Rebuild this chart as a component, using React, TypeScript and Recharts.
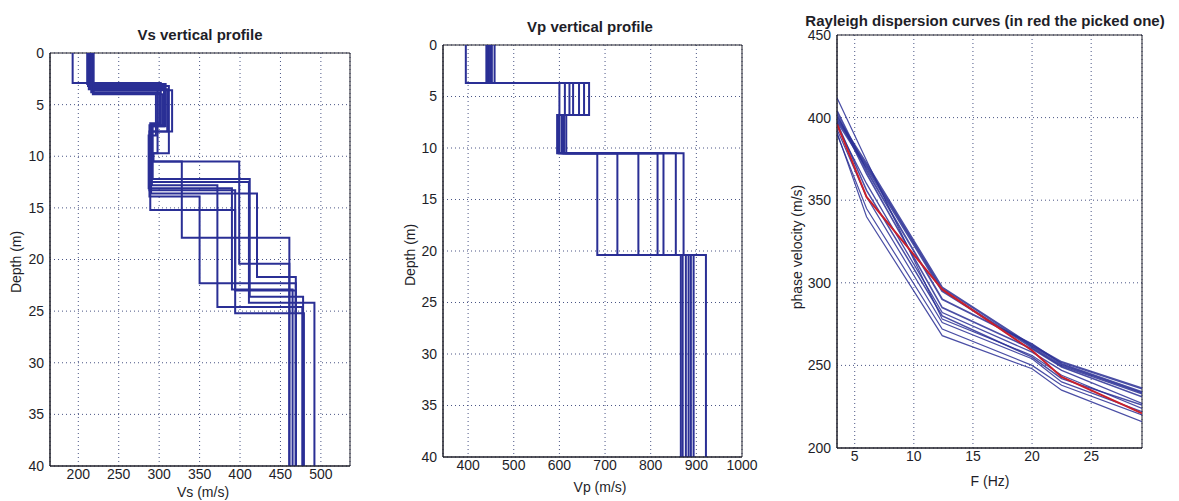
import React from 'react';
import { LineChart, Line, XAxis, YAxis, CartesianGrid, ReferenceArea } from 'recharts';

// ---------- tick labels ----------
const depthTicks = [0, 5, 10, 15, 20, 25, 30, 35, 40];
const vsTicks = [200, 250, 300, 350, 400, 450, 500];
const vpTicks = [400, 500, 600, 700, 800, 900, 1000];
const freqTicks = [5, 10, 15, 20, 25];
const phaseTicks = [200, 250, 300, 350, 400, 450];

// ---------- Vs profiles (layer velocities, layer bottom depths; last layer = half-space) ----------
const vsVelocities = [
  [193, 302, 290, 399, 461],
  [212, 312, 293, 328, 461],
  [215, 306, 289, 411, 492],
  [217, 316, 290, 421, 469],
  [218, 304, 288, 350, 469],
  [214, 298, 291, 372, 477],
  [213, 310, 288, 394, 479],
  [216, 300, 289, 394, 469],
  [211, 308, 292, 412, 478],
  [219, 296, 287, 390, 465],
];
const vsBottoms = [
  [2.9, 6.9, 10.5, 20.4],
  [3.2, 9.7, 10.5, 17.9],
  [3.4, 7.1, 12.5, 24.2],
  [3.6, 7.6, 13.6, 21.7],
  [4.0, 7.0, 13.9, 22.3],
  [3.3, 9.7, 12.8, 24.6],
  [3.5, 7.6, 13.3, 25.2],
  [3.8, 6.8, 15.2, 23.0],
  [3.0, 7.1, 12.2, 23.6],
  [3.9, 8.0, 13.1, 22.9],
];

// ---------- Vp profiles ----------
const vpVelocities = [
  [440, 600, 595, 683, 877],
  [444, 622, 605, 727, 866],
  [395, 643, 600, 773, 883],
  [448, 654, 615, 815, 894],
  [452, 665, 610, 828, 921],
  [458, 630, 598, 855, 870],
  [442, 612, 608, 872, 888],
];
const vpBottoms = [3.7, 6.8, 10.5, 20.4];

// ---------- Rayleigh dispersion curves ----------
const frequencies = [3.5, 6, 12.4, 20, 22.5, 29.3];
const blueCurves = [
  [400, 372, 297, 262, 252, 236],
  [398, 370, 295, 261, 250, 233],
  [402, 366, 285, 260, 249, 231],
  [395, 360, 282, 258, 247, 227],
  [412, 374, 278, 256, 244, 224],
  [393, 352, 276, 254, 240, 222],
  [390, 345, 272, 250, 238, 220],
  [391, 340, 268, 248, 235, 216],
  [397, 356, 280, 255, 242, 226],
  [404, 368, 290, 263, 251, 234],
];
const pickedCurve = [396, 352, 296, 259, 243, 221];

const maxDepth = 40;

// ---------- styles ----------
const FONT = '"Liberation Sans", Arial, sans-serif';
const INK = '#1e1e28';
const BLUE = '#2a2f95';
const GRID = '#4a5585';
const blueWidths = [2.2, 2.2, 1.6, 1.3, 1.2, 1.2, 1.2, 1.2, 1.5, 1.8];

function stepProfile(vels: number[], bottoms: number[]) {
  const pts: { v: number; d: number }[] = [];
  let top = 0;
  vels.forEach((v, i) => {
    const bottom = i < bottoms.length ? bottoms[i] : maxDepth;
    pts.push({ v, d: top });
    pts.push({ v, d: bottom });
    top = bottom;
  });
  return pts;
}

function curvePoints(vals: number[]) {
  return frequencies.map((f, i) => ({ f, c: vals[i] }));
}

const tickStyle = { fill: INK, fontSize: 14, fontFamily: FONT };

function Text({ x, y, children, bold, rotate, size }: any) {
  return (
    <div
      style={{
        position: 'absolute',
        left: x,
        top: y,
        transform: `translate(-50%, -50%)${rotate ? ' rotate(-90deg)' : ''}`,
        whiteSpace: 'nowrap',
        fontFamily: FONT,
        fontSize: size || 14,
        fontWeight: bold ? 700 : 400,
        color: INK,
        lineHeight: '16px',
      }}
    >
      {children}
    </div>
  );
}

function ProfileChart({ left, width, right, marginTop, xHeight, xDomain, xTicks, profiles }: any) {
  return (
    <div style={{ position: 'absolute', left, top: 0 }}>
      <LineChart width={width} height={501} margin={{ top: marginTop, right, bottom: 0, left: 0 }}>
        <CartesianGrid stroke={GRID} strokeDasharray="1 3" />
        <XAxis
          type="number"
          dataKey="v"
          domain={xDomain}
          ticks={xTicks}
          allowDataOverflow
          height={xHeight}
          tickLine={false}
          tickSize={2}
          tickMargin={1}
          axisLine={{ stroke: INK }}
          tick={tickStyle}
          interval={0}
        />
        <YAxis
          type="number"
          domain={[0, maxDepth]}
          reversed
          ticks={depthTicks}
          allowDataOverflow
          width={50}
          tickLine={false}
          tickSize={3}
          tickMargin={3}
          axisLine={{ stroke: INK }}
          tick={tickStyle}
          interval={0}
        />
        {profiles.map((p: any, i: number) => (
          <Line
            key={i}
            data={p}
            dataKey="d"
            stroke={BLUE}
            strokeWidth={2}
            dot={false}
            isAnimationActive={false}
          />
        ))}
        <ReferenceArea
          x1={xDomain[0]}
          x2={xDomain[1]}
          y1={0}
          y2={maxDepth}
          fill="none"
          fillOpacity={0}
          stroke={INK}
          strokeWidth={1}
        />
      </LineChart>
    </div>
  );
}

export default function App() {
  const vsProfiles = vsVelocities.map((v, i) => stepProfile(v, vsBottoms[i]));
  const vpProfiles = vpVelocities.map((v) => stepProfile(v, vpBottoms));
  const fDomain = [3.5, 29.3];
  return (
    <div style={{ position: 'fixed', left: 0, top: 0, width: 1179, height: 501, background: '#fff', overflow: 'hidden' }}>
      {/* Panel 1: Vs */}
      <ProfileChart left={0} width={370} right={20} marginTop={53} xHeight={35} xDomain={[165, 536]} xTicks={vsTicks} profiles={vsProfiles} />
      <Text x={200} y={35} bold size={15}>Vs vertical profile</Text>
      <Text x={16} y={262} rotate>Depth (m)</Text>
      <Text x={203} y={492}>Vs (m/s)</Text>

      {/* Panel 2: Vp */}
      <ProfileChart left={393} width={379} right={30} marginTop={45} xHeight={44} xDomain={[345, 1000]} xTicks={vpTicks} profiles={vpProfiles} />
      <Text x={590} y={27} bold size={15}>Vp vertical profile</Text>
      <Text x={410} y={255} rotate>Depth (m)</Text>
      <Text x={600} y={487}>Vp (m/s)</Text>

      {/* Panel 3: dispersion */}
      <div style={{ position: 'absolute', left: 787, top: 0 }}>
        <LineChart width={375} height={501} margin={{ top: 35, right: 20, bottom: 0, left: 0 }}>
          <CartesianGrid stroke={GRID} strokeDasharray="1 3" />
          <XAxis
            type="number"
            dataKey="f"
            domain={fDomain}
            ticks={freqTicks}
            allowDataOverflow
            height={53}
            tickLine={false}
            tickSize={2}
            tickMargin={1}
            axisLine={{ stroke: INK }}
            tick={tickStyle}
            interval={0}
          />
          <YAxis
            type="number"
            domain={[200, 450]}
            ticks={phaseTicks}
            allowDataOverflow
            width={50}
            tickLine={false}
            tickSize={3}
            tickMargin={3}
            axisLine={{ stroke: INK }}
            tick={tickStyle}
            interval={0}
          />
          {blueCurves.map((c, i) => (
            <Line
              key={i}
              data={curvePoints(c)}
              dataKey="c"
              stroke={BLUE}
              strokeOpacity={0.85}
              strokeWidth={blueWidths[i]}
              dot={false}
              isAnimationActive={false}
            />
          ))}
          <Line
            data={curvePoints(pickedCurve)}
            dataKey="c"
            stroke="#c8202c"
            strokeWidth={2}
            dot={false}
            isAnimationActive={false}
          />
          <ReferenceArea
            x1={fDomain[0]}
            x2={fDomain[1]}
            y1={200}
            y2={450}
            fill="none"
            fillOpacity={0}
            stroke={INK}
            strokeWidth={1}
          />
        </LineChart>
      </div>
      <Text x={985} y={21} bold size={15}>Rayleigh dispersion curves (in red the picked one)</Text>
      <Text x={797} y={247} rotate>phase velocity (m/s)</Text>
      <Text x={990} y={481}>F (Hz)</Text>
    </div>
  );
}
